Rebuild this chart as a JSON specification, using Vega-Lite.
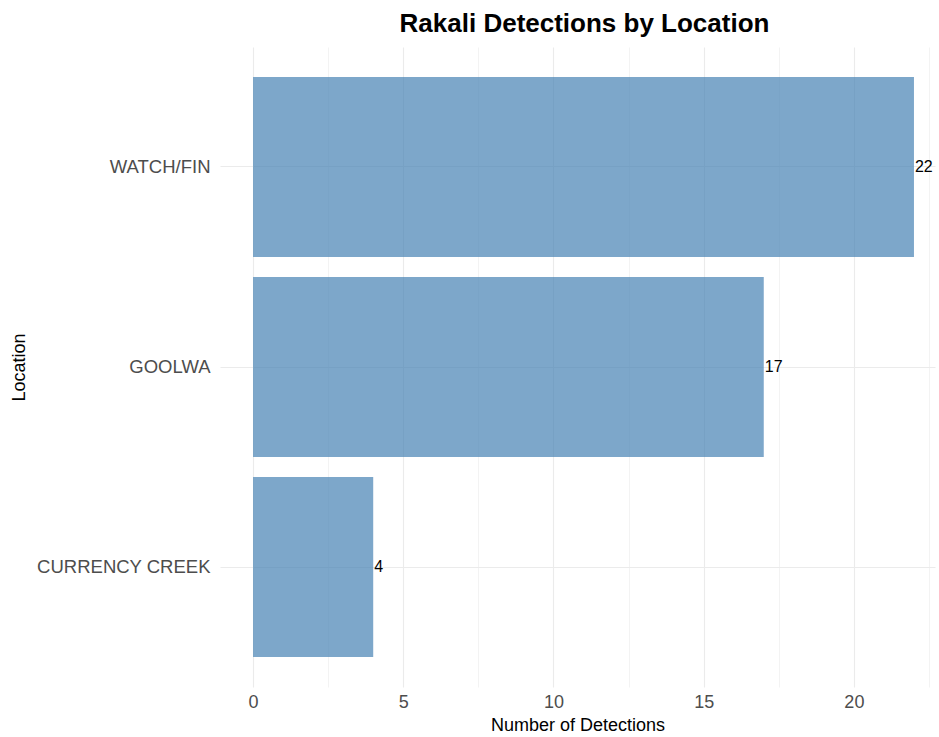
{
  "$schema": "https://vega.github.io/schema/vega-lite/v6.json",
  "width": 715,
  "height": 640,
  "autosize": {"type": "none"},
  "padding": {"left": 220, "top": 47, "right": 4, "bottom": 50},
  "background": "white",
  "config": {
    "font": "Liberation Sans",
    "view": {"stroke": null}
  },
  "title": {
    "text": "Rakali Detections by Location",
    "fontSize": 26,
    "fontWeight": "bold",
    "font": "Liberation Sans",
    "color": "black",
    "anchor": "middle",
    "dx": 7,
    "offset": 10
  },
  "data": {
    "values": [
      {"Location": "WATCH/FIN", "Detections": 22},
      {"Location": "GOOLWA", "Detections": 17},
      {"Location": "CURRENCY CREEK", "Detections": 4}
    ]
  },
  "encoding": {
    "y": {
      "field": "Location",
      "type": "nominal",
      "sort": {"field": "Detections", "order": "descending"},
      "scale": {"paddingInner": 0.1, "paddingOuter": 0.15},
      "axis": {
        "title": "Location",
        "titleFontSize": 18,
        "titleFontWeight": "normal",
        "titleColor": "black",
        "titlePadding": 8,
        "labelFontSize": 18.5,
        "labelColor": "#4D4D4D",
        "labelPadding": 10,
        "ticks": false,
        "domain": false,
        "grid": true,
        "gridColor": "#EBEBEB",
        "gridWidth": 1.1
      }
    },
    "x": {
      "field": "Detections",
      "type": "quantitative",
      "scale": {"domain": [-1.1, 22.7], "nice": false, "zero": false},
      "axis": {
        "title": "Number of Detections",
        "titleFontSize": 18,
        "titleFontWeight": "normal",
        "titleColor": "black",
        "titlePadding": 5,
        "values": [0, 5, 10, 15, 20],
        "labelFontSize": 18,
        "labelColor": "#4D4D4D",
        "labelPadding": 6,
        "ticks": false,
        "domain": false,
        "grid": true,
        "gridColor": "#EBEBEB",
        "gridWidth": 1.1
      }
    }
  },
  "layer": [
    {
      "mark": {"type": "bar", "color": "steelblue", "opacity": 0.7},
      "encoding": {
        "x": {
          "field": "Detections",
          "type": "quantitative",
          "axis": {
            "orient": "top",
            "values": [2.5, 7.5, 12.5, 17.5, 22.5],
            "labels": false,
            "ticks": false,
            "domain": false,
            "title": null,
            "grid": true,
            "gridColor": "#EBEBEB",
            "gridWidth": 0.6
          }
        },
        "x2": {"datum": 0}
      }
    },
    {
      "mark": {"type": "text", "align": "left", "baseline": "middle", "dx": 1, "fontSize": 16, "color": "black"},
      "encoding": {
        "text": {"field": "Detections", "type": "quantitative"}
      }
    }
  ],
  "resolve": {"axis": {"x": "independent"}}
}
